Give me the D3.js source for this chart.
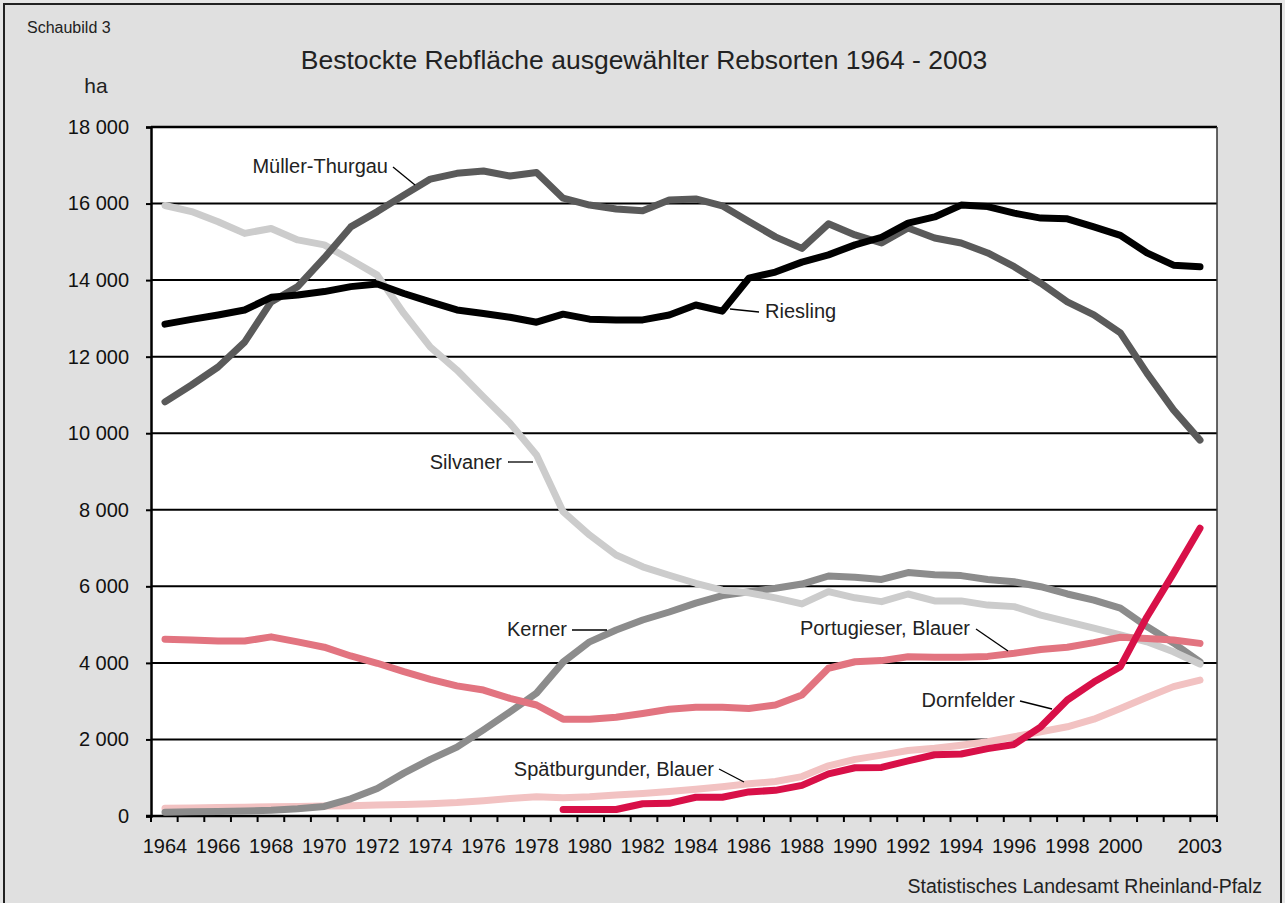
<!DOCTYPE html>
<html>
<head>
<meta charset="utf-8">
<script src="https://cdn.jsdelivr.net/npm/d3@7"></script>
<style>
  body { margin: 0; background: #e6e6e6; }
  svg { display: block; font-family: "Liberation Sans", Arial, sans-serif; }
</style>
</head>
<body>
<div id="chart"></div>
<script>
// Jahre 1964 - 2003
const years = d3.range(1964, 2004);
const yearLabels = [1964, 1966, 1968, 1970, 1972, 1974, 1976, 1978, 1980, 1982, 1984,
    1986, 1988, 1990, 1992, 1994, 1996, 1998, 2000, 2003];
const yTicks = [0, 2000, 4000, 6000, 8000, 10000, 12000, 14000, 16000, 18000];

// Rebfläche in ha
const riesling = [12850, 12975, 13090, 13220, 13550, 13610, 13700, 13830, 13900, 13650,
    13430, 13220, 13130, 13030, 12900, 13110, 12980, 12960, 12960, 13090,
    13350, 13190, 14050, 14210, 14470, 14660, 14920, 15120, 15490, 15650,
    15960, 15920, 15750, 15620, 15600, 15390, 15170, 14710, 14390, 14350];
const muellerThurgau = [10820, 11260, 11730, 12380, 13430, 13830, 14580, 15390, 15790, 16220,
    16640, 16790, 16850, 16720, 16810, 16140, 15960, 15860, 15810, 16090,
    16120, 15940, 15530, 15130, 14830, 15470, 15180, 14970, 15360, 15100,
    14970, 14710, 14350, 13920, 13430, 13090, 12620, 11570, 10610, 9820];
const silvaner = [15950, 15790, 15525, 15220, 15350, 15050, 14920, 14530, 14130, 13130,
    12250, 11650, 10950, 10260, 9430, 7950, 7340, 6820, 6510, 6290,
    6080, 5900, 5830, 5700, 5540, 5860, 5700, 5600, 5800, 5620,
    5620, 5510, 5470, 5250, 5080, 4910, 4730, 4550, 4290, 3970];
const kerner = [100, 110, 120, 130, 150, 190, 250, 450, 720, 1120,
    1480, 1800, 2250, 2720, 3210, 4020, 4550, 4860, 5120, 5330,
    5560, 5760, 5860, 5950, 6060, 6270, 6240, 6180, 6360, 6300,
    6280, 6180, 6120, 5990, 5800, 5640, 5430, 4950, 4520, 4030];
const portugieser = [4620, 4600, 4570, 4570, 4680, 4550, 4410, 4180, 3990, 3770,
    3570, 3400, 3290, 3075, 2900, 2530, 2530, 2580, 2680, 2790,
    2840, 2840, 2810, 2900, 3160, 3860, 4030, 4060, 4160, 4150,
    4150, 4170, 4250, 4350, 4410, 4530, 4670, 4640, 4600, 4510];
const spaetburgunder = [200, 210, 220, 230, 240, 250, 260, 270, 290, 300,
    320, 350, 400, 460, 500, 480, 500, 550, 590, 640,
    700, 765, 840, 900, 1030, 1310, 1480, 1590, 1710, 1770,
    1850, 1940, 2070, 2200, 2330, 2530, 2810, 3100, 3380, 3550];
const dornfelder = [null, null, null, null, null, null, null, null, null, null,
    null, null, null, null, null, 170, 170, 170, 320, 330,
    490, 490, 630, 670, 800, 1100, 1260, 1270, 1440, 1600,
    1620, 1760, 1870, 2330, 3030, 3500, 3900, 5200, 6340, 7520];

// Reihenfolge der Zeichnung (unten zuerst)
const series = [
    { name: "Spätburgunder, Blauer", values: spaetburgunder, color: "#f2c2c2" },
    { name: "Kerner", values: kerner, color: "#8c8c8c" },
    { name: "Silvaner", values: silvaner, color: "#cccccc" },
    { name: "Portugieser, Blauer", values: portugieser, color: "#e27480" },
    { name: "Dornfelder", values: dornfelder, color: "#d81048" },
    { name: "Müller-Thurgau", values: muellerThurgau, color: "#5a5a5a" },
    { name: "Riesling", values: riesling, color: "#000000" }
];

const W = 1285, H = 903;
const plot = { left: 151, right: 1217, top: 127, bottom: 816 };
const labelSize = "20px";

const svg = d3.select("#chart").append("svg")
    .attr("width", W)
    .attr("height", H);

// Rahmen
svg.append("rect")
    .attr("x", 4).attr("y", 4)
    .attr("width", 1277).attr("height", H + 10)
    .style("fill", "#e0e0e0")
    .style("stroke", "#222")
    .style("stroke-width", 2);

svg.append("rect")
    .attr("x", plot.left).attr("y", plot.top)
    .attr("width", plot.right - plot.left).attr("height", plot.bottom - plot.top)
    .style("fill", "#fff");

const band = d3.scaleBand().domain(years).range([plot.left, plot.right]);
const x = d3.scalePoint().domain(years).range([165, 1200]);
const y = d3.scaleLinear().domain([0, 18000]).range([plot.bottom, plot.top]);

// Gitterlinien
svg.append("g")
    .selectAll("line")
    .data(yTicks.filter(d => d > 0))
    .enter().append("line")
    .attr("x1", plot.left).attr("x2", plot.right)
    .attr("y1", d => y(d)).attr("y2", d => y(d))
    .style("stroke", "#000")
    .style("stroke-width", d => d === 18000 ? 2.5 : 2);

// rechter Rand
svg.append("line")
    .attr("x1", plot.right).attr("x2", plot.right)
    .attr("y1", plot.top).attr("y2", plot.bottom)
    .style("stroke", "#333")
    .style("stroke-width", 1.5);

// y-Achse
const yAxis = d3.axisLeft(y)
    .tickValues(yTicks)
    .tickSize(5)
    .tickFormat(d => d3.format(",")(d).replace(",", " "));
const gy = svg.append("g")
    .attr("transform", "translate(" + plot.left + ",0)")
    .call(yAxis);
gy.select(".domain").style("stroke", "#000").style("stroke-width", 2.5);
gy.selectAll(".tick line").style("stroke", "#000").style("stroke-width", 2);
gy.selectAll(".tick text")
    .attr("x", -22)
    .style("font-size", labelSize)
    .style("fill", "#111")
    .style("font-family", "'Liberation Sans', Arial, sans-serif");

// x-Achse
svg.append("line")
    .attr("x1", plot.left - 5).attr("x2", plot.right)
    .attr("y1", plot.bottom).attr("y2", plot.bottom)
    .style("stroke", "#000")
    .style("stroke-width", 2.5);

svg.append("g")
    .selectAll("line")
    .data(years.map(d => band(d)).concat([plot.right]))
    .enter().append("line")
    .attr("x1", d => d).attr("x2", d => d)
    .attr("y1", plot.bottom).attr("y2", plot.bottom + 6)
    .style("stroke", "#000")
    .style("stroke-width", 2);

svg.append("g")
    .selectAll("text")
    .data(yearLabels)
    .enter().append("text")
    .attr("x", d => x(d))
    .attr("y", 853)
    .attr("text-anchor", "middle")
    .style("font-size", labelSize)
    .style("fill", "#111")
    .text(d => d);

// Linien
const line = d3.line()
    .defined(d => d.v !== null)
    .x(d => x(d.year))
    .y(d => y(d.v));

svg.append("g")
    .selectAll("path")
    .data(series)
    .enter().append("path")
    .attr("d", s => line(years.map((yr, i) => ({ year: yr, v: s.values[i] }))))
    .style("fill", "none")
    .style("stroke", s => s.color)
    .style("stroke-width", 7)
    .style("stroke-linejoin", "round")
    .style("stroke-linecap", "round");

// Beschriftungen mit Hinweislinien
const labels = [
    { text: "Müller-Thurgau", x: 388, y: 166, anchor: "end", lx1: 393, ly1: 167, lx2: 415, ly2: 185 },
    { text: "Riesling", x: 765, y: 311, anchor: "start", lx1: 730, ly1: 309, lx2: 759, ly2: 312 },
    { text: "Silvaner", x: 502, y: 462, anchor: "end", lx1: 508, ly1: 462, lx2: 533, ly2: 462 },
    { text: "Kerner", x: 567, y: 629, anchor: "end", lx1: 572, ly1: 630, lx2: 607, ly2: 630 },
    { text: "Portugieser, Blauer", x: 970, y: 628, anchor: "end", lx1: 976, ly1: 629, lx2: 1008, ly2: 651 },
    { text: "Dornfelder", x: 1015, y: 700, anchor: "end", lx1: 1020, ly1: 701, lx2: 1052, ly2: 709 },
    { text: "Spätburgunder, Blauer", x: 714, y: 769, anchor: "end", lx1: 719, ly1: 769, lx2: 744, ly2: 782 }
];

svg.append("g")
    .selectAll("line")
    .data(labels)
    .enter().append("line")
    .attr("x1", d => d.lx1).attr("y1", d => d.ly1)
    .attr("x2", d => d.lx2).attr("y2", d => d.ly2)
    .style("stroke", "#000")
    .style("stroke-width", 1.3);

svg.append("g")
    .selectAll("text")
    .data(labels)
    .enter().append("text")
    .attr("x", d => d.x)
    .attr("y", d => d.y)
    .attr("dy", "0.35em")
    .attr("text-anchor", d => d.anchor)
    .style("font-size", labelSize)
    .style("fill", "#222")
    .text(d => d.text);

// Titel und Texte
svg.append("text")
    .attr("x", 27).attr("y", 33)
    .style("font-size", "16px")
    .style("fill", "#222")
    .text("Schaubild 3");

svg.append("text")
    .attr("x", 644).attr("y", 69)
    .attr("text-anchor", "middle")
    .style("font-size", "26.5px")
    .style("fill", "#222")
    .text("Bestockte Rebfläche ausgewählter Rebsorten 1964 - 2003");

svg.append("text")
    .attr("x", 96).attr("y", 93)
    .attr("text-anchor", "middle")
    .style("font-size", "21px")
    .style("fill", "#222")
    .text("ha");

svg.append("text")
    .attr("x", 1262).attr("y", 893)
    .attr("text-anchor", "end")
    .style("font-size", "19.5px")
    .style("fill", "#222")
    .text("Statistisches Landesamt Rheinland-Pfalz");
</script>
</body>
</html>
